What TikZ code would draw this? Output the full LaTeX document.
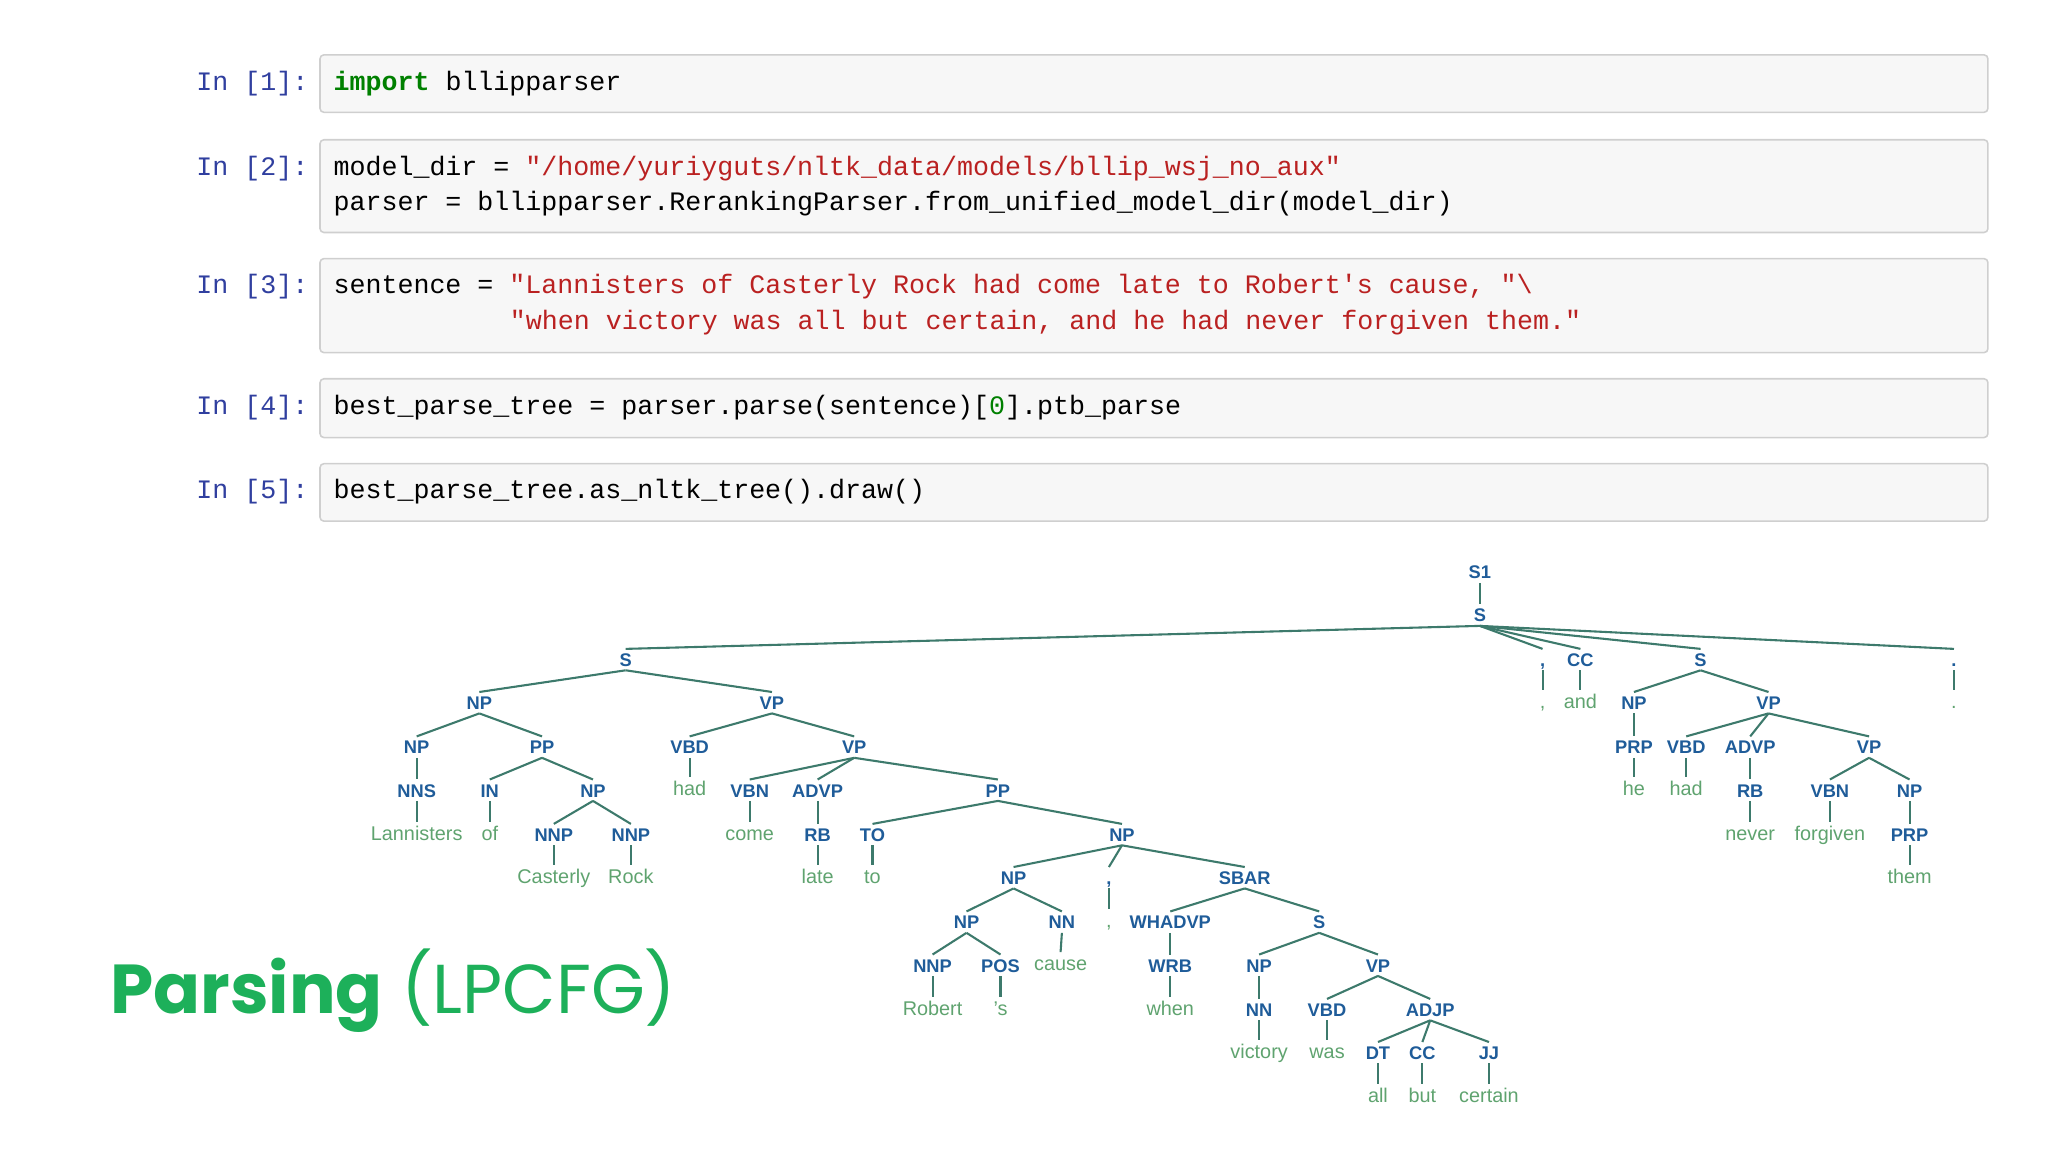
\documentclass[tikz,border=0pt]{standalone}
\usepackage{fontspec}
\setmainfont{Liberation Sans}
\setmonofont{Liberation Mono}
\newfontfamily\pop{Poppins}
\definecolor{kw}{HTML}{008000}
\definecolor{str}{HTML}{BA2121}
\definecolor{prompt}{HTML}{303F9F}
\definecolor{cellbg}{HTML}{F7F7F7}
\definecolor{cellbd}{HTML}{CFCFCF}
\definecolor{labblue}{HTML}{1F5C99}
\definecolor{wordgreen}{HTML}{5FA36F}
\definecolor{edgec}{HTML}{3D7A6C}
\definecolor{titlegreen}{HTML}{1DB05A}
\tikzset{
  cell/.style={draw=cellbd, fill=cellbg, line width=0.6pt, rounded corners=1.5pt},
  prm/.style={anchor=base west, text=prompt, font=\ttfamily\fontsize{10.2}{11}\selectfont, inner sep=0pt},
  code/.style={anchor=base west, font=\ttfamily\fontsize{10.2}{11}\selectfont, inner sep=0pt},
  lab/.style={font=\bfseries\fontsize{7}{8}\selectfont, text=labblue, inner sep=1.3pt, text height=5.2pt, text depth=0pt},
  wrd/.style={font=\fontsize{7.6}{8}\selectfont, text=wordgreen, inner sep=1.3pt, text height=5.6pt, text depth=1.4pt},
  edge/.style={draw=edgec, line width=0.8pt},
}
\begin{document}
\begin{tikzpicture}[x=0.5pt,y=-0.5pt]
\useasboundingbox (0,0) rectangle (1568,882);
% code cells
\draw[cell] (245,42) rectangle (1522,86);
\draw[cell] (245,107) rectangle (1522,178);
\draw[cell] (245,198) rectangle (1522,270);
\draw[cell] (245,290) rectangle (1522,335);
\draw[cell] (245,355) rectangle (1522,399);
\node[prm] (p1) at (150,69) {In [1]:};
\node[prm] (p2) at (150,134) {In [2]:};
\node[prm] (p3) at (150,225) {In [3]:};
\node[prm] (p4) at (150,317) {In [4]:};
\node[prm] (p5) at (150,382) {In [5]:};
\node[code] (c1) at (255,69) {{\color{kw}\bfseries import} bllipparser};
\node[code] (c2a) at (255,134) {model\_dir = {\color{str}"/home/yuriyguts/nltk\_data/models/bllip\_wsj\_no\_aux"}};
\node[code] (c2b) at (255,161) {parser = bllipparser.RerankingParser.from\_unified\_model\_dir(model\_dir)};
\node[code] (c3a) at (255,225) {sentence = {\color{str}"Lannisters of Casterly Rock had come late to Robert's cause, "\textbackslash}};
\node[code] (c3b) at (390,252) {\color{str}"when victory was all but certain, and he had never forgiven them."};
\node[code] (c4) at (255,317) {best\_parse\_tree = parser.parse(sentence)[{\color{kw}0}].ptb\_parse};
\node[code] (c5) at (255,382) {best\_parse\_tree.as\_nltk\_tree().draw()};
% title
\node[anchor=base west, inner sep=0pt, text=titlegreen, font=\pop\fontsize{26.5}{30}\selectfont] (title) at (84,776) {\textbf{Parsing} (LPCFG)};
% tree
\node[lab] (s1) at (1133,438) {S1};
\node[lab] (s) at (1133,471) {S};
\node[lab] (sa) at (479,505) {S};
\node[lab] (pc1) at (1181,505) {,};
\node[lab] (cc1) at (1210,505) {CC};
\node[lab] (sb) at (1302,505) {S};
\node[lab] (pp1) at (1496,505) {.};
\node[lab] (np1) at (367,538) {NP};
\node[lab] (vp1) at (591,538) {VP};
\node[lab] (np2) at (319,572) {NP};
\node[lab] (pp2) at (415,572) {PP};
\node[lab] (nns) at (319,605) {NNS};
\node[wrd] (w1) at (319,639) {Lannisters};
\node[lab] (in) at (375,605) {IN};
\node[wrd] (w2) at (375,639) {of};
\node[lab] (np3) at (454,605) {NP};
\node[lab] (nnp1) at (424,639) {NNP};
\node[wrd] (w3) at (424,672) {Casterly};
\node[lab] (nnp2) at (483,639) {NNP};
\node[wrd] (w4) at (483,672) {Rock};
\node[lab] (vbd1) at (528,572) {VBD};
\node[wrd] (w5) at (528,605) {had};
\node[lab] (vp2) at (654,572) {VP};
\node[lab] (vbn1) at (574,605) {VBN};
\node[wrd] (w6) at (574,639) {come};
\node[lab] (advp1) at (626,605) {ADVP};
\node[lab] (rb1) at (626,639) {RB};
\node[wrd] (w7) at (626,672) {late};
\node[lab] (pp3) at (764,605) {PP};
\node[lab] (to) at (668,639) {TO};
\node[wrd] (w8) at (668,672) {to};
\node[lab] (np4) at (859,639) {NP};
\node[lab] (np5) at (776,672) {NP};
\node[lab] (pc2) at (849,672) {,};
\node[wrd] (w9) at (849,706) {,};
\node[lab] (sbar) at (953,672) {SBAR};
\node[lab] (np6) at (740,706) {NP};
\node[lab] (nn1) at (813,706) {NN};
\node[wrd] (w10) at (812,739) {cause};
\node[lab] (nnp3) at (714,739) {NNP};
\node[wrd] (w11) at (714,773) {Robert};
\node[lab] (pos) at (766,739) {POS};
\node[wrd] (w12) at (766,773) {'s};
\node[lab] (whadvp) at (896,706) {WHADVP};
\node[lab] (wrb) at (896,739) {WRB};
\node[wrd] (w13) at (896,773) {when};
\node[lab] (s3) at (1010,706) {S};
\node[lab] (np7) at (964,739) {NP};
\node[lab] (nn2) at (964,773) {NN};
\node[wrd] (w14) at (964,806) {victory};
\node[lab] (vp3) at (1055,739) {VP};
\node[lab] (vbd2) at (1016,773) {VBD};
\node[wrd] (w15) at (1016,806) {was};
\node[lab] (adjp) at (1095,773) {ADJP};
\node[lab] (dt) at (1055,806) {DT};
\node[wrd] (w16) at (1055,840) {all};
\node[lab] (cc2) at (1089,806) {CC};
\node[wrd] (w17) at (1089,840) {but};
\node[lab] (jj) at (1140,806) {JJ};
\node[wrd] (w18) at (1140,840) {certain};
\node[wrd] (w19) at (1181,538) {,};
\node[wrd] (w20) at (1210,538) {and};
\node[lab] (np8) at (1251,538) {NP};
\node[lab] (prp1) at (1251,572) {PRP};
\node[wrd] (w21) at (1251,605) {he};
\node[lab] (vp4) at (1354,538) {VP};
\node[lab] (vbd3) at (1291,572) {VBD};
\node[wrd] (w22) at (1291,605) {had};
\node[lab] (advp2) at (1340,572) {ADVP};
\node[lab] (rb2) at (1340,605) {RB};
\node[wrd] (w23) at (1340,639) {never};
\node[lab] (vp5) at (1431,572) {VP};
\node[lab] (vbn2) at (1401,605) {VBN};
\node[wrd] (w24) at (1401,639) {forgiven};
\node[lab] (np9) at (1462,605) {NP};
\node[lab] (prp2) at (1462,639) {PRP};
\node[wrd] (w25) at (1462,672) {them};
\node[wrd] (w26) at (1496,538) {.};
\foreach \a/\b in {s1/s, s/sa, s/pc1, s/cc1, s/sb, s/pp1,
  sa/np1, sa/vp1, np1/np2, np1/pp2, np2/nns, nns/w1, pp2/in, in/w2, pp2/np3,
  np3/nnp1, nnp1/w3, np3/nnp2, nnp2/w4, vp1/vbd1, vbd1/w5, vp1/vp2,
  vp2/vbn1, vbn1/w6, vp2/advp1, advp1/rb1, rb1/w7, vp2/pp3, pp3/to, to/w8, pp3/np4,
  np4/np5, np4/pc2, pc2/w9, np4/sbar, np5/np6, np5/nn1, nn1/w10, np6/nnp3, nnp3/w11,
  np6/pos, pos/w12, sbar/whadvp, whadvp/wrb, wrb/w13, sbar/s3, s3/np7, np7/nn2, nn2/w14,
  s3/vp3, vp3/vbd2, vbd2/w15, vp3/adjp, adjp/dt, dt/w16, adjp/cc2, cc2/w17, adjp/jj, jj/w18,
  pc1/w19, cc1/w20, sb/np8, np8/prp1, prp1/w21, sb/vp4, vp4/vbd3, vbd3/w22, vp4/advp2,
  advp2/rb2, rb2/w23, vp4/vp5, vp5/vbn2, vbn2/w24, vp5/np9, np9/prp2, prp2/w25, pp1/w26}
  \draw[edge] (\a.south) -- (\b.north);
\end{tikzpicture}
\end{document}
